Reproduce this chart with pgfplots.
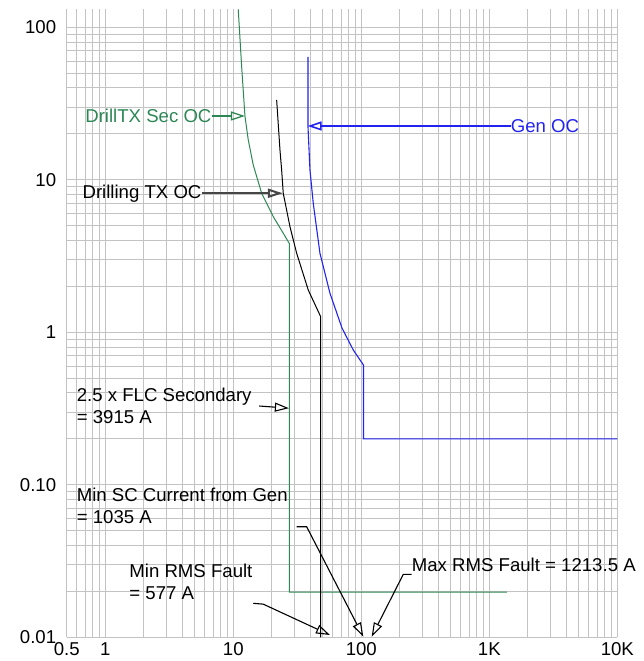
\documentclass[border=0pt]{standalone}
\usepackage{fontspec}
\setmainfont{Liberation Sans}
\usepackage{pgfplots}
\pgfplotsset{compat=1.18}
\usetikzlibrary{arrows.meta}
\definecolor{cgreen}{RGB}{45,135,85}
\definecolor{cblue}{RGB}{35,35,240}
\definecolor{cgrid}{RGB}{195,195,195}
\definecolor{cdark}{RGB}{70,70,70}
\begin{document}
\begin{tikzpicture}
\useasboundingbox (-66.7pt,-23.7pt) rectangle (577.3pt,637.3pt);
\begin{axis}[
  at={(0pt,0pt)}, anchor=south west,
  scale only axis, width=550.6pt, height=628pt,
  xmode=log, ymode=log,
  xmin=0.5, xmax=10000, ymin=0.01, ymax=131.2,
  clip=false,
  axis line style={draw=none},
  major tick length=0pt, minor tick length=0pt,
  xtick={0.5,1,10,100,1000,10000},
  xticklabels={0.5,1,10,100,1K,10K},
  ytick={0.01,0.1,1,10,100},
  yticklabels={0.01,0.10,1,10,100},
  minor xtick={0.5,0.6,0.7,0.8,0.9,1,2,3,4,5,6,7,8,9,10,20,30,40,50,60,70,80,90,100,200,300,400,500,600,700,800,900,1000,2000,3000,4000,5000,6000,7000,8000,9000,10000},
  minor ytick={0.01,0.02,0.03,0.04,0.05,0.06,0.07,0.08,0.09,0.1,0.2,0.3,0.4,0.5,0.6,0.7,0.8,0.9,1,2,3,4,5,6,7,8,9,10,20,30,40,50,60,70,80,90,100},
  grid=minor,
  minor grid style={cgrid, line width=1pt},
  /pgf/number format/assume math mode=true,
  ticklabel style={font=\fontsize{18.6}{20}\selectfont},
  yticklabel style={xshift=-7pt},
  xticklabel style={yshift=-2pt},
]
\addplot[cgreen, line width=1pt] coordinates {(10.94,131) (11.63,55.2) (12.34,26.2) (13.10,18.24) (14.33,12.5) (16.67,8.16) (20.54,5.73) (24.58,4.46) (27.38,3.83) (27.38,0.0198) (1375,0.0198)};
\addplot[black, line width=1pt] coordinates {(21.83,33.37) (23.17,15.68) (23.88,11.6) (24.58,8.16) (27.73,4.93) (31.28,3.30) (38.54,1.894) (48.17,1.266) (48.17,0.01)};
\addplot[cblue, line width=1.1pt] coordinates {(38.34,63.87) (38.34,22.53) (39.74,11.6) (42.17,7.01) (47.56,3.296) (56.96,1.802) (70.68,1.067) (86.6,0.7656) (104,0.6104) (104,0.2) (10000,0.2)};

\node[anchor=east, inner sep=0pt, text=cgreen, font=\fontsize{18.6}{22}\selectfont] at (axis cs:6.78,26.2) {DrillTX Sec OC};
\draw[cgreen, line width=1.3pt, -{Triangle[open,length=14pt,width=9pt]}] (axis cs:6.78,26.2) -- (axis cs:12.34,26.2);

\node[anchor=west, inner sep=0pt, text=cblue, font=\fontsize{18.6}{22}\selectfont] at (axis cs:1469,22.53) {Gen OC};
\draw[cblue, line width=1.6pt, -{Triangle[open,length=14pt,width=9pt]}] (axis cs:1469,22.53) -- (axis cs:38.1,22.53);

\node[anchor=east, inner sep=0pt, font=\fontsize{18.6}{22}\selectfont] at (axis cs:5.665,8.16) {Drilling TX OC};
\draw[cdark, line width=2pt, -{Triangle[open,length=15pt,width=9pt]}] (axis cs:5.665,8.16) -- (axis cs:24.4,8.16);

\node[anchor=west, inner sep=0pt, align=left, font=\fontsize{18.6}{22.3}\selectfont] at (axis cs:0.598,0.3286) {2.5 x FLC Secondary\\= 3915 A};
\draw[black, line width=1.1pt, -{Triangle[open,length=14pt,width=9pt]}] (axis cs:15.96,0.3286) -- (axis cs:27.2,0.318);

\node[anchor=west, inner sep=0pt, align=left, font=\fontsize{18.6}{22.3}\selectfont] at (axis cs:0.598,0.0726) {Min SC Current from Gen\\= 1035 A};
\draw[black, line width=1.1pt, -{Triangle[open,length=14pt,width=9pt]}] (axis cs:31.28,0.05311) -- (axis cs:37.44,0.05311) -- (axis cs:103.7,0.0101);

\node[anchor=west, inner sep=0pt, align=left, font=\fontsize{18.6}{22.3}\selectfont] at (axis cs:1.54,0.02315) {Min RMS Fault\\= 577 A};
\draw[black, line width=1.1pt, -{Triangle[open,length=14pt,width=9pt]}] (axis cs:14.33,0.0167) -- (axis cs:17.15,0.0165) -- (axis cs:56.95,0.01035);

\node[anchor=west, inner sep=0pt, font=\fontsize{18.6}{22}\selectfont] at (axis cs:247.6,0.02979) {Max RMS Fault = 1213.5 A};
\draw[black, line width=1.1pt, -{Triangle[open,length=14pt,width=9pt]}] (axis cs:247.6,0.02589) -- (axis cs:212.9,0.02589) -- (axis cs:120.6,0.0101);
\end{axis}
\end{tikzpicture}
\end{document}
